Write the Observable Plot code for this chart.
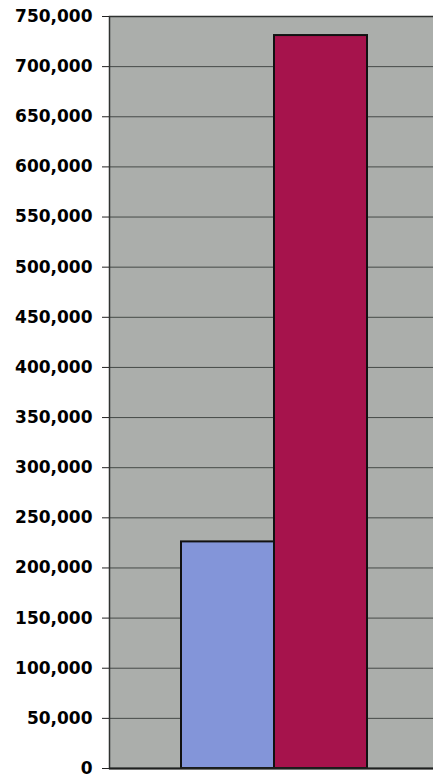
<!DOCTYPE html>
<html>
<head>
<meta charset="utf-8">
<script src="https://cdn.jsdelivr.net/npm/d3@7"></script>
<script src="https://cdn.jsdelivr.net/npm/@observablehq/plot@0.6"></script>
<style>
  html, body { margin: 0; padding: 0; background: #ffffff; overflow: hidden; }
  #chart { width: 433px; height: 779px; overflow: hidden; }
  #chart svg { max-width: none !important; }
</style>
</head>
<body>
<div id="chart"></div>
<script>
const categories = ["Series 1", "Series 2"];
const values = [226000, 731000];
const colors = ["#8395d9", "#a6134c"];
const yTicks = [0, 50000, 100000, 150000, 200000, 250000, 300000, 350000, 400000, 450000, 500000, 550000, 600000, 650000, 700000, 750000];

const data = categories.map((c, i) => ({cat: c, value: values[i]}));

const chart = Plot.plot({
  width: 440,
  height: 779,
  marginLeft: 109,
  marginRight: 2,
  marginTop: 16,
  marginBottom: 11,
  style: {background: "#ffffff", fontFamily: "DejaVu Sans", fontWeight: "bold", fontSize: "17px", color: "#000", maxWidth: "none"},
  x: {domain: categories, paddingInner: 0, paddingOuter: 0.76, axis: null},
  y: {domain: [0, 750000], label: null, axis: null},
  color: {domain: categories, range: colors},
  marks: [
    Plot.frame({fill: "#abaeab", stroke: null}),
    Plot.ruleY(yTicks, {stroke: "#454a47", strokeWidth: 1}),
    Plot.barY(data, {x: "cat", y: "value", fill: "cat", stroke: "#111", strokeWidth: 2}),
    Plot.frame({stroke: "#2f3230", strokeWidth: 1.5}),
    Plot.ruleY([0], {stroke: "#1e201f", strokeWidth: 2}),
    Plot.axisY({ticks: yTicks, tickFormat: d3.format(","), tickSize: 7, tickPadding: 10, label: null, stroke: "#222"})
  ]
});
document.getElementById("chart").appendChild(chart);
</script>
</body>
</html>
